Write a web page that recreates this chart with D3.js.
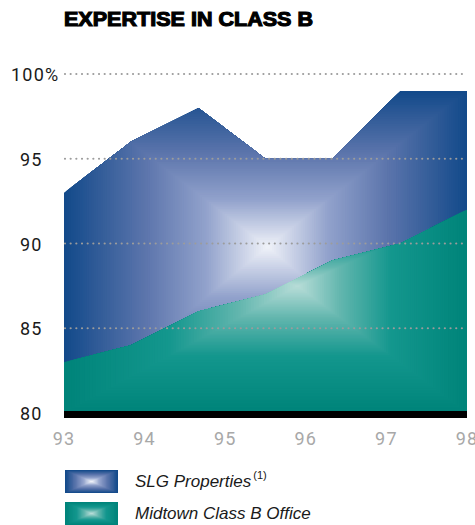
<!DOCTYPE html>
<html>
<head>
<meta charset="utf-8">
<script src="https://cdn.jsdelivr.net/npm/d3@7"></script>
<style>
  html, body { margin: 0; padding: 0; background: #fff; }
  svg { display: block; }
</style>
</head>
<body>
<div id="chart"></div>
<script>
// data
var yearTicks = [93, 94, 95, 96, 97, 98];
var periods = [93.0, 93.83, 94.67, 95.5, 96.33, 97.17, 98.0];
var slgValues = [93, 96, 98, 95, 95, 99, 99];
var midtownValues = [83, 84, 86, 87, 89, 90, 92];
var gridValues = [100, 95, 90, 85];
var yLabels = ["100%", "95", "90", "85", "80"];
var yLabelValues = [100, 95, 90, 85, 80];
var legendNames = ["SLG Properties", "Midtown Class B Office"];

var width = 475, height = 525;

var svg = d3.select("#chart").append("svg")
    .attr("width", width)
    .attr("height", height);

var x = d3.scaleLinear().domain([93, 98]).range([64, 467]);
var y = d3.scaleLinear().domain([80, 100]).range([413, 74]);

var defs = svg.append("defs");

// box ("rectangular") gradient made of nested rects
function boxGradient(g, box, fx, fy, stops, n) {
    var color = d3.scaleLinear()
        .domain(stops.map(function(s) { return s[0]; }))
        .range(stops.map(function(s) { return s[1]; }))
        .interpolate(d3.interpolateRgb);
    g.selectAll("rect.step")
        .data(d3.range(n))
        .join("rect")
        .attr("class", "step")
        .attr("x", function(i) { return box.x0 + (fx - box.x0) * i / n; })
        .attr("y", function(i) { return box.y0 + (fy - box.y0) * i / n; })
        .attr("width", function(i) { return (box.x1 - box.x0) * (1 - i / n); })
        .attr("height", function(i) { return (box.y1 - box.y0) * (1 - i / n); })
        .attr("fill", function(i) { return color(i / (n - 1)); });
}

var blueStops = [[0, "#134a8a"], [0.4, "#5c75ac"], [0.7, "#92a2cc"], [1, "#eef1f8"]];
var tealStops = [[0, "#00847a"], [0.45, "#14978e"], [0.75, "#62b6ae"], [1, "#b6dcd7"]];

var area = function(values) {
    return d3.area()
        .x(function(d, i) { return x(periods[i]); })
        .y0(y(80))
        .y1(function(d) { return y(d); })(values);
};

defs.append("clipPath").attr("id", "clip-slg")
    .append("path").attr("d", area(slgValues));
defs.append("clipPath").attr("id", "clip-mid")
    .append("path").attr("d", area(midtownValues));

var plotX0 = x(periods[0]), plotX1 = x(periods[periods.length - 1]);

var gSlg = svg.append("g").attr("clip-path", "url(#clip-slg)");
boxGradient(gSlg,
    { x0: plotX0, x1: plotX1, y0: y(d3.max(slgValues)), y1: y(80) },
    x(95.5) + 2, y(89.8), blueStops, 90);

var gMid = svg.append("g").attr("clip-path", "url(#clip-mid)");
boxGradient(gMid,
    { x0: plotX0, x1: plotX1, y0: y(d3.max(midtownValues)), y1: y(80) },
    x(95.9), y(87.5), tealStops, 90);

// dotted gridlines on top
svg.append("g")
    .selectAll("line")
    .data(gridValues)
    .join("line")
    .attr("x1", plotX0 + 1)
    .attr("x2", plotX1)
    .attr("y1", function(d) { return y(d); })
    .attr("y2", function(d) { return y(d); })
    .attr("stroke", "#9c9c9c")
    .attr("stroke-width", 2.2)
    .attr("stroke-linecap", "round")
    .attr("stroke-dasharray", "0,5.67");

// black base bar
svg.append("rect")
    .attr("x", plotX0)
    .attr("y", y(80) - 2)
    .attr("width", plotX1 - plotX0)
    .attr("height", 7)
    .attr("fill", "#000");

// y labels
svg.append("g")
    .selectAll("text")
    .data(yLabelValues)
    .join("text")
    .attr("y", function(d) { return y(d) + 7; })
    .attr("font-family", "Roboto, 'Liberation Sans', sans-serif")
    .attr("font-size", 18)
    .attr("letter-spacing", 1.2)
    .attr("fill", "#1a1a1a")
    .each(function(d, i) {
        var t = d3.select(this);
        t.append("tspan").text(String(d));
        if (yLabels[i].indexOf("%") >= 0) t.append("tspan").text("%");
    })
    .attr("text-anchor", "start")
    .attr("x", function(d) { return d === 100 ? 11 : 42 - 22; });

// x labels
svg.append("g")
    .selectAll("text")
    .data(yearTicks)
    .join("text")
    .attr("x", function(d) { return x(d); })
    .attr("y", 445)
    .attr("text-anchor", "middle")
    .attr("font-family", "Roboto, 'Liberation Sans', sans-serif")
    .attr("font-size", 18)
    .attr("letter-spacing", 1.2)
    .attr("fill", "#a8a8a8")
    .text(function(d) { return d; });

// title
svg.append("text")
    .attr("x", 64)
    .attr("y", 26)
    .attr("font-family", "'Liberation Sans', Arial, sans-serif")
    .attr("font-weight", "bold")
    .attr("font-size", 19.5)
    .attr("stroke", "#000")
    .attr("stroke-width", 1.1)
    .attr("textLength", 249)
    .attr("lengthAdjust", "spacingAndGlyphs")
    .text("EXPERTISE IN CLASS B");

// legend
var legend = svg.append("g");
var legendStops = [blueStops, tealStops];
legendNames.forEach(function(name, i) {
    var top = 470 + i * 32;
    var sw = legend.append("g");
    boxGradient(sw, { x0: 65, x1: 118, y0: top, y1: top + 23 },
        91.5, top + 11.5, legendStops[i], 20);
    var t = legend.append("text")
        .attr("x", 135)
        .attr("y", top + 17)
        .attr("font-family", "'Liberation Sans', Arial, sans-serif")
        .attr("font-style", "italic")
        .attr("font-size", 17)
        .attr("fill", "#1a1a1a");
    t.append("tspan").text(name);
    if (i === 0) {
        t.append("tspan")
            .attr("dx", 2)
            .attr("dy", -8)
            .attr("font-size", 11)
            .attr("font-style", "normal")
            .text("(1)");
    }
});
</script>
</body>
</html>
